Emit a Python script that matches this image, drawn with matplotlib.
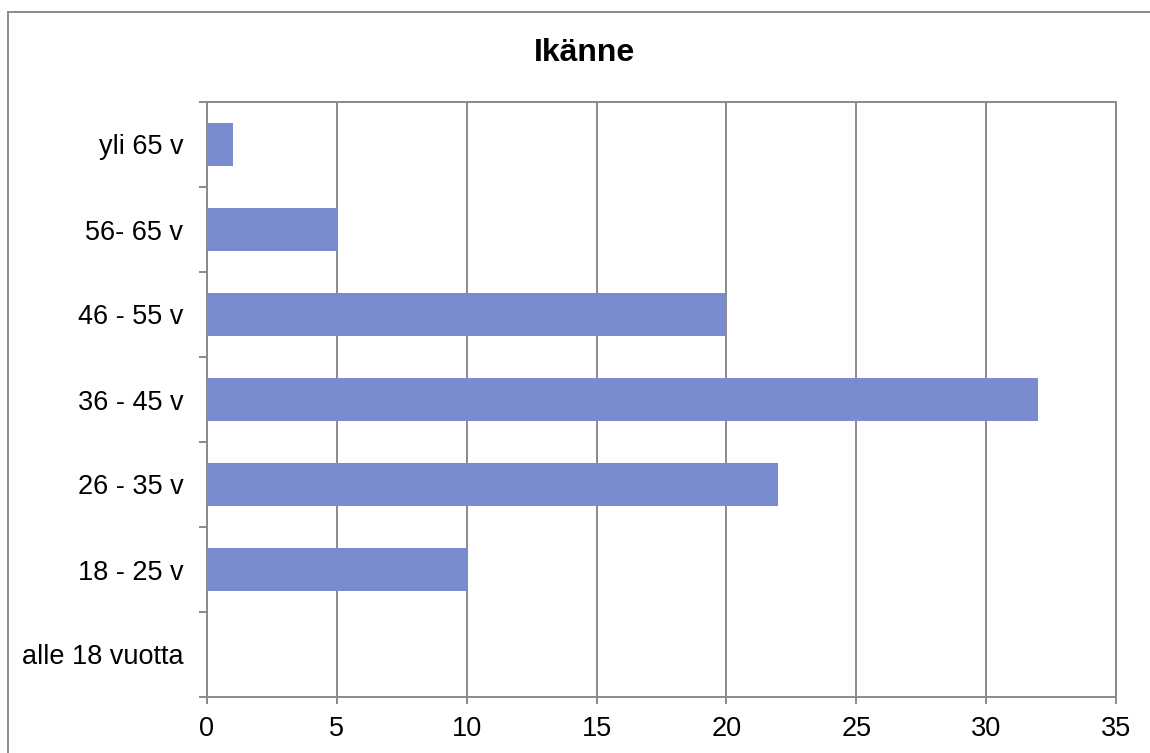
import matplotlib.pyplot as plt
from matplotlib.lines import Line2D

plt.rcParams['font.family'] = ['Liberation Sans', 'DejaVu Sans']

categories = ['alle 18 vuotta', '18 - 25 v', '26 - 35 v', '36 - 45 v',
              '46 - 55 v', '56- 65 v', 'yli 65 v']
values = [0, 10, 22, 32, 20, 5, 1]
xticks = [0, 5, 10, 15, 20, 25, 30, 35]

gray = '#8a8a8a'
bar_color = '#7b8bcf'

fig = plt.figure(figsize=(11.5, 7.53), dpi=100)
ax = fig.add_axes([207 / 1150, 1 - 697 / 753, (1116 - 207) / 1150, (697 - 102) / 753])

pos = list(range(len(categories)))
ax.barh(pos, values, height=0.5, color=bar_color, zorder=3)

ax.set_xlim(0, 35)
ax.set_ylim(-0.5, len(categories) - 0.5)
ax.set_xticks(xticks)
ax.set_xticklabels([str(t) for t in xticks], fontsize=19.5)
ax.set_yticks(pos)
ax.set_yticklabels(categories, fontsize=19.5)
ax.set_yticks([p - 0.5 for p in range(len(categories) + 1)], minor=True)

ax.tick_params(axis='y', which='major', length=0, pad=17)
ax.tick_params(axis='y', which='minor', length=6, width=1.4, color=gray)
ax.tick_params(axis='x', which='major', length=5, width=1.4, color=gray, pad=9)

ax.grid(axis='x', color=gray, linewidth=1.4, zorder=0)
ax.set_axisbelow(True)
for s in ax.spines.values():
    s.set_color(gray)
    s.set_linewidth(1.4)

fig.text(585 / 1150, 1 - 53 / 753, 'Ikänne', fontsize=23, fontweight='bold',
         ha='center', va='center')

# outer chart frame (only left and top edges visible)
fig.add_artist(Line2D([8 / 1150, 8 / 1150], [0, 1 - 12 / 753], color=gray, linewidth=1.4))
fig.add_artist(Line2D([8 / 1150, 1], [1 - 12 / 753, 1 - 12 / 753], color=gray, linewidth=1.4))

fig.savefig('out.png', dpi=100)
